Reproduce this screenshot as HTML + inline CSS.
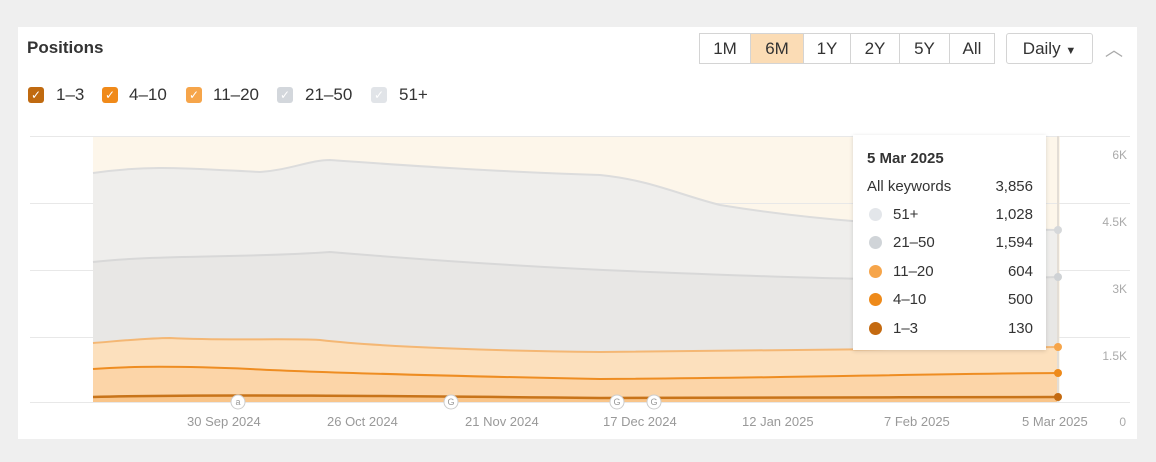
<!DOCTYPE html>
<html><head><meta charset="utf-8"><style>
body{margin:0;width:1156px;height:462px;background:#efefef;font-family:"Liberation Sans",sans-serif;position:relative;overflow:hidden}
.card{position:absolute;left:18px;top:27px;width:1119px;height:412px;background:#fff}
.abs{position:absolute}
.btn{position:absolute;top:33px;height:31px;border:1px solid #d4d4d4;box-sizing:border-box;font-size:17px;color:#333;text-align:center;line-height:29px;background:#fff}
.cb{position:absolute;top:87px;width:16px;height:16px;border-radius:3px;color:#fff;font-size:12px;line-height:16px;text-align:center}
.lg{position:absolute;top:85px;font-size:17px;color:#333}
.yl{position:absolute;font-size:12px;color:#aaa;right:0}
.xl{position:absolute;top:414px;font-size:13px;color:#999}
.tt{font-size:15px;color:#333}
</style></head><body>
<div class="card"></div>
<div class="abs" style="left:27px;top:38px;font-size:17px;font-weight:bold;color:#333">Positions</div>
<div class="btn" style="left:699px;width:52px">1M</div>
<div class="btn" style="left:750px;width:54px;background:#fbdcb5">6M</div>
<div class="btn" style="left:803px;width:48px">1Y</div>
<div class="btn" style="left:850px;width:50px">2Y</div>
<div class="btn" style="left:899px;width:51px">5Y</div>
<div class="btn" style="left:949px;width:46px">All</div>
<div class="btn" style="left:1006px;width:87px;border-radius:3px">Daily <span style="font-size:11px">▼</span></div>
<div class="abs" style="left:1105px;top:36px;font-size:18px;color:#aaa">︿</div>
<div class="cb" style="left:28px;background:#c06a10">✓</div><div class="lg" style="left:56px">1–3</div>
<div class="cb" style="left:102px;background:#f08a1a">✓</div><div class="lg" style="left:129px">4–10</div>
<div class="cb" style="left:186px;background:#f6a54a">✓</div><div class="lg" style="left:213px">11–20</div>
<div class="cb" style="left:277px;background:#d3d7dc">✓</div><div class="lg" style="left:305px">21–50</div>
<div class="cb" style="left:371px;background:#e1e4e8">✓</div><div class="lg" style="left:399px">51+</div>
<svg class="abs" style="left:0;top:0" width="1156" height="462">
<rect x="93" y="136" width="967" height="266" fill="#fdf6ea"/>
<g stroke="#e8e8e8" stroke-width="1">
<line x1="30" y1="136.5" x2="1130" y2="136.5"/><line x1="30" y1="203.5" x2="1130" y2="203.5"/>
<line x1="30" y1="270.5" x2="1130" y2="270.5"/><line x1="30" y1="337.5" x2="1130" y2="337.5"/>
<line x1="30" y1="402.5" x2="1130" y2="402.5"/></g>
<path d="M93 173 C150 165 180 168 260 172 C290 170 310 160 330 160 C400 165 500 172 600 175 C650 180 680 195 720 205 C800 218 900 228 1058 230 L1058 402 L93 402Z" fill="#efeeec"/>
<path d="M93 173 C150 165 180 168 260 172 C290 170 310 160 330 160 C400 165 500 172 600 175 C650 180 680 195 720 205 C800 218 900 228 1058 230" fill="none" stroke="#dcdcdc" stroke-width="2"/>
<path d="M93 262 C150 255 250 258 330 252 C450 262 550 268 650 272 C800 278 900 282 1058 277 L1058 402 L93 402Z" fill="#e8e7e5"/>
<path d="M93 262 C150 255 250 258 330 252 C450 262 550 268 650 272 C800 278 900 282 1058 277" fill="none" stroke="#d8d8d8" stroke-width="2"/>
<path d="M93 343 C130 340 150 338 170 338 C230 341 280 338 320 340 C380 347 500 351 600 352 C800 350 900 349 1058 347 L1058 402 L93 402Z" fill="#fce0bd"/>
<path d="M93 343 C130 340 150 338 170 338 C230 341 280 338 320 340 C380 347 500 351 600 352 C800 350 900 349 1058 347" fill="none" stroke="#f4b774" stroke-width="2"/>
<path d="M93 369 C130 366 180 366 250 369 C350 374 500 377 600 379 C800 378 900 374 1058 373 L1058 402 L93 402Z" fill="#fcd5a8"/>
<path d="M93 369 C130 366 180 366 250 369 C350 374 500 377 600 379 C800 378 900 374 1058 373" fill="none" stroke="#ee8d22" stroke-width="2"/>
<path d="M93 397 C200 394 400 396 600 398 C800 398 900 397 1058 397 L1058 402 L93 402Z" fill="#f9c58a"/>
<path d="M93 397 C200 394 400 396 600 398 C800 398 900 397 1058 397" fill="none" stroke="#c8741a" stroke-width="2.5"/>
<line x1="1058" y1="136" x2="1058" y2="402" stroke="#e3ddd5" stroke-width="2"/>
<circle cx="1058" cy="230" r="4" fill="#d6d8da"/><circle cx="1058" cy="277" r="4" fill="#cfd2d5"/>
<circle cx="1058" cy="347" r="4" fill="#f6a54a"/><circle cx="1058" cy="373" r="4" fill="#ee8a1a"/><circle cx="1058" cy="397" r="4" fill="#c46a10"/>
<g font-family="Liberation Sans" font-size="9" fill="#999" text-anchor="middle">
<circle cx="238" cy="402" r="7" fill="#fff" stroke="#ccc"/><text x="238" y="405">a</text>
<circle cx="451" cy="402" r="7" fill="#fff" stroke="#ccc"/><text x="451" y="405">G</text>
<circle cx="617" cy="402" r="7" fill="#fff" stroke="#ccc"/><text x="617" y="405">G</text>
<circle cx="654" cy="402" r="7" fill="#fff" stroke="#ccc"/><text x="654" y="405">G</text></g>
</svg>
<div class="yl" style="top:148px;right:29px">6K</div>
<div class="yl" style="top:215px;right:29px">4.5K</div>
<div class="yl" style="top:282px;right:29px">3K</div>
<div class="yl" style="top:349px;right:29px">1.5K</div>
<div class="yl" style="top:415px;right:30px">0</div>
<div class="xl" style="left:187px">30 Sep 2024</div>
<div class="xl" style="left:327px">26 Oct 2024</div>
<div class="xl" style="left:465px">21 Nov 2024</div>
<div class="xl" style="left:603px">17 Dec 2024</div>
<div class="xl" style="left:742px">12 Jan 2025</div>
<div class="xl" style="left:884px">7 Feb 2025</div>
<div class="xl" style="left:1022px">5 Mar 2025</div>
<div class="abs" style="left:853px;top:135px;width:193px;height:215px;background:#fff;box-shadow:0 1px 4px rgba(0,0,0,.15)">
<div class="abs tt" style="left:14px;top:15px;font-weight:bold">5 Mar 2025</div>
<div class="abs tt" style="left:14px;top:43px">All keywords</div><div class="abs tt" style="right:13px;top:43px">3,856</div>
<div class="abs tt" style="left:40px;top:71px">51+</div><div class="abs tt" style="right:13px;top:71px">1,028</div>
<div class="abs tt" style="left:40px;top:99px">21–50</div><div class="abs tt" style="right:13px;top:99px">1,594</div>
<div class="abs tt" style="left:40px;top:128px">11–20</div><div class="abs tt" style="right:13px;top:128px">604</div>
<div class="abs tt" style="left:40px;top:156px">4–10</div><div class="abs tt" style="right:13px;top:156px">500</div>
<div class="abs tt" style="left:40px;top:185px">1–3</div><div class="abs tt" style="right:13px;top:185px">130</div>
<div class="abs" style="left:16px;top:73px;width:13px;height:13px;border-radius:50%;background:#e3e6ea"></div>
<div class="abs" style="left:16px;top:101px;width:13px;height:13px;border-radius:50%;background:#d0d4d8"></div>
<div class="abs" style="left:16px;top:130px;width:13px;height:13px;border-radius:50%;background:#f6a54a"></div>
<div class="abs" style="left:16px;top:158px;width:13px;height:13px;border-radius:50%;background:#ee8a1a"></div>
<div class="abs" style="left:16px;top:187px;width:13px;height:13px;border-radius:50%;background:#c46a10"></div>
</div>
</body></html>
